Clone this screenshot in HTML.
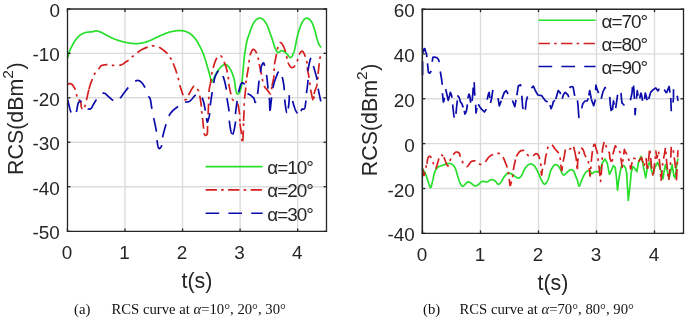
<!DOCTYPE html>
<html><head><meta charset="utf-8"><style>
html,body{margin:0;padding:0;background:#fff;}
svg{display:block;font-family:"Liberation Sans",sans-serif;will-change:transform;}
</style></head><body>
<svg width="685" height="318" viewBox="0 0 685 318">
<rect width="685" height="318" fill="#fff"/>
<g id="grid"><line x1="124.97" y1="9" x2="124.97" y2="231.4" stroke="#dcdcdc" stroke-width="1.4"/>
<line x1="182.54" y1="9" x2="182.54" y2="231.4" stroke="#dcdcdc" stroke-width="1.4"/>
<line x1="240.11" y1="9" x2="240.11" y2="231.4" stroke="#dcdcdc" stroke-width="1.4"/>
<line x1="297.68" y1="9" x2="297.68" y2="231.4" stroke="#dcdcdc" stroke-width="1.4"/>
<line x1="67.5" y1="53.35" x2="326.5" y2="53.35" stroke="#dcdcdc" stroke-width="1.4"/>
<line x1="67.5" y1="97.8" x2="326.5" y2="97.8" stroke="#dcdcdc" stroke-width="1.4"/>
<line x1="67.5" y1="142.25" x2="326.5" y2="142.25" stroke="#dcdcdc" stroke-width="1.4"/>
<line x1="67.5" y1="186.7" x2="326.5" y2="186.7" stroke="#dcdcdc" stroke-width="1.4"/><line x1="480.5" y1="9.2" x2="480.5" y2="233.4" stroke="#dcdcdc" stroke-width="1.4"/>
<line x1="538.5" y1="9.2" x2="538.5" y2="233.4" stroke="#dcdcdc" stroke-width="1.4"/>
<line x1="596.5" y1="9.2" x2="596.5" y2="233.4" stroke="#dcdcdc" stroke-width="1.4"/>
<line x1="654.5" y1="9.2" x2="654.5" y2="233.4" stroke="#dcdcdc" stroke-width="1.4"/>
<line x1="422.3" y1="53.9" x2="683.5" y2="53.9" stroke="#dcdcdc" stroke-width="1.4"/>
<line x1="422.3" y1="98.75" x2="683.5" y2="98.75" stroke="#dcdcdc" stroke-width="1.4"/>
<line x1="422.3" y1="143.6" x2="683.5" y2="143.6" stroke="#dcdcdc" stroke-width="1.4"/>
<line x1="422.3" y1="188.5" x2="683.5" y2="188.5" stroke="#dcdcdc" stroke-width="1.4"/></g>
<polyline points="67.7,58.2 67.83,57.59 67.95,56.98 68.07,56.37 68.19,55.75 68.34,55.13 68.5,54.5 68.68,53.89 68.87,53.26 69.07,52.62 69.29,51.98 69.51,51.35 69.75,50.72 70,50.1 70.26,49.5 70.53,48.91 70.81,48.32 71.11,47.73 71.4,47.15 71.7,46.58 72,46 72.29,45.43 72.58,44.86 72.87,44.29 73.16,43.73 73.47,43.18 73.78,42.63 74.1,42.1 74.47,41.52 74.86,40.95 75.26,40.4 75.66,39.85 76.08,39.32 76.5,38.8 76.92,38.3 77.34,37.8 77.77,37.32 78.21,36.85 78.66,36.41 79.1,36 79.57,35.61 80.04,35.25 80.52,34.92 81,34.6 81.5,34.3 82.01,34 82.52,33.72 83.05,33.45 83.58,33.21 84.1,33 84.7,32.8 85.29,32.65 85.89,32.52 86.5,32.4 87.16,32.28 87.82,32.17 88.5,32.08 89.2,32 89.82,31.96 90.46,31.94 91.11,31.92 91.76,31.88 92.4,31.8 93.04,31.64 93.66,31.41 94.28,31.18 94.93,30.99 95.6,30.9 96.19,30.92 96.79,30.99 97.4,31.1 98.04,31.26 98.68,31.45 99.33,31.67 100,31.9 100.54,32.1 101.08,32.33 101.64,32.59 102.2,32.86 102.77,33.15 103.35,33.45 103.93,33.76 104.52,34.07 105.11,34.39 105.7,34.7 106.3,35 106.86,35.28 107.42,35.57 107.98,35.87 108.55,36.18 109.13,36.49 109.71,36.8 110.29,37.1 110.87,37.41 111.45,37.71 112.04,38 112.63,38.28 113.21,38.55 113.8,38.8 114.42,39.05 115.04,39.29 115.66,39.53 116.28,39.75 116.9,39.96 117.53,40.17 118.15,40.37 118.78,40.57 119.41,40.76 120.04,40.94 120.67,41.12 121.3,41.3 121.93,41.47 122.56,41.64 123.19,41.81 123.82,41.97 124.45,42.12 125.09,42.27 125.72,42.41 126.36,42.54 126.99,42.67 127.63,42.79 128.27,42.9 128.9,43 129.58,43.1 130.26,43.2 130.94,43.28 131.62,43.36 132.31,43.43 132.99,43.49 133.67,43.54 134.35,43.58 135.03,43.6 135.72,43.61 136.4,43.6 137.09,43.57 137.79,43.53 138.5,43.48 139.21,43.41 139.91,43.33 140.62,43.24 141.31,43.13 142,43.01 142.68,42.89 143.35,42.75 144,42.6 144.64,42.44 145.26,42.26 145.86,42.07 146.46,41.87 147.05,41.66 147.64,41.44 148.23,41.21 148.81,40.98 149.4,40.74 150,40.5 150.63,40.24 151.26,39.97 151.89,39.68 152.52,39.39 153.15,39.1 153.78,38.79 154.41,38.49 155.04,38.19 155.67,37.89 156.3,37.6 156.93,37.31 157.56,37.01 158.19,36.72 158.82,36.42 159.44,36.12 160.07,35.83 160.7,35.54 161.33,35.25 161.97,34.97 162.6,34.7 163.23,34.44 163.85,34.18 164.48,33.92 165.11,33.66 165.74,33.41 166.37,33.17 167,32.93 167.63,32.71 168.26,32.5 168.9,32.3 169.53,32.12 170.16,31.94 170.8,31.78 171.44,31.62 172.08,31.47 172.72,31.33 173.35,31.21 173.98,31.09 174.6,30.99 175.2,30.9 175.85,30.81 176.49,30.74 177.11,30.68 177.73,30.63 178.35,30.6 178.96,30.58 179.58,30.58 180.2,30.6 180.83,30.63 181.46,30.67 182.08,30.72 182.71,30.79 183.34,30.88 183.96,30.99 184.58,31.13 185.2,31.3 185.78,31.49 186.36,31.7 186.94,31.93 187.51,32.18 188.08,32.46 188.65,32.76 189.21,33.08 189.76,33.43 190.3,33.8 190.79,34.16 191.27,34.55 191.75,34.97 192.22,35.4 192.69,35.85 193.15,36.32 193.6,36.8 194.05,37.29 194.48,37.79 194.89,38.3 195.3,38.8 195.69,39.32 196.07,39.85 196.44,40.39 196.79,40.94 197.13,41.5 197.47,42.06 197.8,42.64 198.12,43.22 198.45,43.81 198.77,44.4 199.1,45 199.4,45.55 199.7,46.1 199.99,46.65 200.28,47.21 200.57,47.77 200.86,48.34 201.15,48.92 201.43,49.51 201.71,50.1 201.99,50.71 202.26,51.32 202.53,51.96 202.8,52.6 203.03,53.16 203.25,53.74 203.47,54.33 203.69,54.92 203.91,55.53 204.13,56.14 204.34,56.76 204.55,57.39 204.76,58.02 204.97,58.66 205.18,59.3 205.38,59.95 205.59,60.6 205.79,61.26 205.99,61.92 206.2,62.58 206.4,63.24 206.6,63.9 206.79,64.53 206.99,65.19 207.18,65.86 207.38,66.55 207.58,67.25 207.78,67.96 207.97,68.68 208.17,69.4 208.37,70.12 208.56,70.84 208.75,71.55 208.94,72.26 209.12,72.95 209.3,73.62 209.48,74.28 209.65,74.92 209.81,75.54 209.97,76.13 210.12,76.68 210.27,77.21 210.4,77.7 210.6,78.51 210.76,79.34 210.91,80.14 211.05,80.85 211.2,81.43 211.38,81.83 211.6,82 211.87,81.88 212.18,81.5 212.51,80.94 212.85,80.28 213.19,79.61 213.5,79 213.78,78.47 214.05,77.91 214.31,77.34 214.56,76.76 214.83,76.17 215.11,75.59 215.4,75 215.7,74.44 216.01,73.86 216.32,73.28 216.65,72.69 216.99,72.12 217.32,71.55 217.66,71.01 218,70.5 218.39,69.95 218.78,69.42 219.17,68.91 219.57,68.43 219.98,67.96 220.4,67.5 220.9,66.98 221.4,66.46 221.92,65.98 222.46,65.55 223,65.2 223.61,64.89 224.24,64.65 224.88,64.5 225.5,64.5 226.02,64.63 226.53,64.87 227.04,65.2 227.53,65.58 228,66 228.39,66.4 228.77,66.85 229.14,67.34 229.5,67.86 229.85,68.4 230.18,68.95 230.5,69.5 230.79,70.02 231.06,70.55 231.32,71.1 231.57,71.65 231.81,72.22 232.04,72.8 232.27,73.4 232.5,74 232.72,74.61 232.94,75.23 233.15,75.85 233.35,76.49 233.55,77.14 233.74,77.81 233.93,78.51 234.12,79.24 234.3,80 234.43,80.6 234.55,81.24 234.66,81.93 234.76,82.65 234.87,83.4 234.97,84.17 235.06,84.95 235.16,85.73 235.26,86.5 235.36,87.27 235.46,88.01 235.56,88.73 235.68,89.4 235.79,90.04 235.92,90.62 236.05,91.14 236.2,91.6 236.51,92.45 236.84,93.19 237.2,93.74 237.6,94 238.05,93.92 238.55,93.58 239.05,93.07 239.5,92.5 239.77,92.06 240.01,91.54 240.24,90.95 240.45,90.32 240.64,89.66 240.82,88.97 240.99,88.27 241.15,87.58 241.3,86.9 241.43,86.26 241.55,85.63 241.65,85.01 241.73,84.38 241.81,83.74 241.88,83.07 241.95,82.37 242.03,81.64 242.11,80.85 242.2,80 242.25,79.49 242.31,78.95 242.37,78.37 242.43,77.78 242.48,77.15 242.54,76.51 242.6,75.84 242.66,75.15 242.72,74.45 242.78,73.73 242.85,73 242.91,72.26 242.97,71.51 243.03,70.75 243.1,69.99 243.16,69.23 243.22,68.46 243.29,67.7 243.35,66.94 243.41,66.19 243.48,65.45 243.54,64.71 243.6,63.99 243.67,63.28 243.73,62.59 243.79,61.92 243.86,61.27 243.92,60.64 243.98,60.03 244.04,59.45 244.1,58.9 244.19,58.09 244.28,57.33 244.37,56.6 244.45,55.9 244.54,55.22 244.62,54.56 244.71,53.92 244.8,53.28 244.89,52.65 244.99,52.01 245.08,51.36 245.19,50.69 245.3,50 245.41,49.34 245.52,48.67 245.63,47.99 245.74,47.29 245.86,46.6 245.98,45.89 246.1,45.19 246.23,44.5 246.36,43.81 246.49,43.13 246.63,42.46 246.77,41.82 246.91,41.19 247.05,40.58 247.2,40 247.39,39.31 247.58,38.67 247.78,38.06 247.97,37.48 248.18,36.9 248.39,36.32 248.62,35.72 248.85,35.08 249.1,34.4 249.3,33.85 249.5,33.26 249.71,32.65 249.92,32.01 250.14,31.36 250.37,30.69 250.6,30.02 250.84,29.34 251.08,28.66 251.33,28 251.58,27.34 251.84,26.7 252.1,26.08 252.36,25.49 252.63,24.93 252.9,24.4 253.24,23.78 253.58,23.17 253.94,22.58 254.3,22.01 254.66,21.46 255.03,20.94 255.41,20.47 255.8,20.03 256.2,19.64 256.6,19.3 257.22,18.88 257.85,18.55 258.5,18.3 259.16,18.15 259.8,18.1 260.43,18.16 261.06,18.31 261.68,18.56 262.3,18.89 262.9,19.3 263.31,19.64 263.71,20.03 264.11,20.46 264.5,20.94 264.88,21.46 265.26,22 265.63,22.58 266,23.17 266.35,23.78 266.7,24.4 266.97,24.93 267.24,25.49 267.51,26.08 267.77,26.7 268.02,27.34 268.27,28 268.52,28.66 268.76,29.34 268.99,30.02 269.22,30.69 269.45,31.36 269.67,32.01 269.88,32.65 270.09,33.26 270.3,33.85 270.5,34.4 270.75,35.09 271,35.75 271.23,36.38 271.45,36.98 271.67,37.58 271.88,38.17 272.09,38.77 272.29,39.38 272.5,40 272.71,40.66 272.91,41.34 273.11,42.03 273.3,42.72 273.5,43.41 273.69,44.09 273.89,44.75 274.09,45.39 274.3,46 274.53,46.63 274.75,47.24 274.98,47.83 275.22,48.41 275.46,48.96 275.72,49.49 276,50 276.36,50.64 276.74,51.3 277.15,51.91 277.56,52.37 278,52.6 278.48,52.53 278.99,52.22 279.5,51.83 280,51.5 280.6,51.16 281.19,50.85 281.8,50.7 282.33,50.76 282.88,50.93 283.44,51.19 284,51.5 284.46,51.79 284.92,52.13 285.38,52.51 285.84,52.92 286.32,53.36 286.8,53.8 287.26,54.28 287.74,54.87 288.23,55.51 288.72,56.16 289.22,56.74 289.7,57.21 290.16,57.52 290.6,57.6 290.99,57.46 291.38,57.13 291.75,56.67 292.11,56.09 292.46,55.43 292.8,54.72 293.12,53.99 293.42,53.27 293.7,52.6 293.92,52.03 294.13,51.44 294.31,50.83 294.49,50.2 294.65,49.55 294.8,48.9 294.94,48.24 295.07,47.58 295.2,46.92 295.33,46.27 295.47,45.63 295.6,45 295.74,44.32 295.87,43.65 295.99,43 296.1,42.35 296.2,41.7 296.31,41.05 296.43,40.37 296.57,39.68 296.72,38.96 296.9,38.2 297.04,37.62 297.2,37 297.36,36.36 297.53,35.7 297.71,35.01 297.9,34.31 298.1,33.6 298.3,32.88 298.5,32.16 298.71,31.44 298.93,30.72 299.14,30.01 299.36,29.31 299.59,28.63 299.81,27.96 300.03,27.33 300.26,26.72 300.48,26.14 300.7,25.6 300.99,24.92 301.28,24.26 301.57,23.62 301.87,23 302.17,22.42 302.47,21.86 302.79,21.34 303.11,20.86 303.45,20.41 303.8,20 304.34,19.44 304.9,18.93 305.48,18.5 306.08,18.21 306.7,18.1 307.25,18.16 307.83,18.36 308.43,18.66 309.03,19.05 309.62,19.52 310.18,20.04 310.7,20.6 311.04,21.04 311.37,21.52 311.68,22.06 311.98,22.63 312.27,23.25 312.54,23.89 312.81,24.55 313.06,25.23 313.31,25.93 313.56,26.63 313.8,27.33 314.03,28.03 314.27,28.72 314.5,29.4 314.71,30.04 314.92,30.69 315.12,31.37 315.31,32.06 315.5,32.76 315.69,33.46 315.86,34.17 316.04,34.88 316.21,35.58 316.38,36.27 316.55,36.95 316.72,37.61 316.89,38.25 317.06,38.86 317.23,39.45 317.4,40 317.64,40.73 317.87,41.43 318.09,42.11 318.32,42.75 318.54,43.36 318.78,43.93 319.03,44.48 319.3,45 319.66,45.57 320.03,46.08 320.42,46.56 320.81,47.02 321.2,47.5" fill="none" stroke="#27df2b" stroke-width="1.7" stroke-linejoin="round"/>
<path d="M67.8,84.2 L68.3,83.99 L68.79,83.75 L69.29,83.56 L69.8,83.5 L70.43,83.62 L71.08,83.89 L71.72,84.26 L72.3,84.7 L72.75,85.16 L73.15,85.71 L73.53,86.31 L73.87,86.92 L74.2,87.5 L74.54,88.1 L74.85,88.69 L75.13,89.3 L75.28,89.7 M76.36,93.96 L76.37,94 L76.53,94.67 L76.7,95.3 L76.89,95.98 L77.03,96.47 M78.51,99.49 L78.51,99.49 L79.08,99.86 L79.6,100.3 L79.96,100.77 L80.27,101.28 L80.55,101.85 L80.8,102.5 L80.93,103.03 L81.02,103.64 L81.07,104.3 L81.12,104.99 L81.17,105.67 L81.23,106.34 L81.34,106.96 L81.5,107.5 L81.78,108.16 L82.12,108.84 L82.32,109.16 M84.52,107.22 L84.68,106.68 L84.9,106 L85.09,105.41 L85.27,104.81 L85.29,104.74 M86.41,100.27 L86.56,99.63 L86.71,98.97 L86.86,98.31 L87.01,97.65 L87.15,97 L87.3,96.34 L87.45,95.67 L87.6,95 L87.75,94.36 L87.9,93.72 L88.05,93.07 L88.2,92.42 L88.36,91.77 L88.51,91.12 L88.67,90.47 L88.84,89.83 L88.86,89.76 M89,89.2 L89,89.2 L89.18,88.53 L89.35,87.87 L89.53,87.22 L89.71,86.57 L89.9,85.92 L90.09,85.28 L90.29,84.64 L90.5,84 L90.72,83.36 L90.94,82.73 L91.18,82.1 L91.42,81.47 L91.66,80.85 L91.91,80.23 L92.16,79.61 L92.4,79 L92.41,78.97 M94.11,74.91 L94.3,74.5 L94.62,73.84 L94.93,73.22 L95.26,72.62 L95.28,72.58 M98.5,69.2 L98.87,68.74 L99.23,68.21 L99.58,67.66 L99.93,67.12 L100.3,66.6 L100.68,66.15 L101.1,65.8 L101.63,65.51 L102.2,65.32 L102.79,65.19 L103.39,65.1 L104,65 L104.55,64.91 L105.11,64.83 L105.68,64.77 L106.26,64.72 L106.87,64.7 L107.45,64.7 M111.81,65.26 L112.37,65.34 L113,65.4 L113.72,65.45 L114.39,65.48 L114.4,65.48 M119.2,65.4 L119.2,65.4 L119.76,65.28 L120.33,65.12 L120.9,64.93 L121.48,64.72 L122.04,64.47 L122.6,64.2 L123.18,63.86 L123.76,63.47 L124.32,63.05 L124.88,62.61 L125.44,62.19 L126,61.8 L126.52,61.48 L127.04,61.18 L127.56,60.89 L128.08,60.59 L128.59,60.27 L128.6,60.27 M131.74,57.2 L132.03,56.91 L132.5,56.5 L133.01,56.15 L133.51,55.87 L133.84,55.7 M137.3,52.72 L137.62,52.41 L138.1,52 M138.1,52 L138.62,51.61 L139.15,51.23 L139.69,50.86 L140.25,50.5 L140.82,50.16 L141.41,49.83 L142,49.5 L142.57,49.2 L143.17,48.92 L143.79,48.63 L144.41,48.36 L145.04,48.1 L145.65,47.85 L146.24,47.62 L146.8,47.4 L147.47,47.14 L147.66,47.07 M151.9,45.94 L151.92,45.93 L152.57,45.85 L153.2,45.81 L153.8,45.8 L154.49,45.85 M159,47.2 L159.53,47.48 L160.09,47.8 L160.67,48.16 L161.25,48.54 L161.84,48.95 L162.43,49.37 L163,49.8 L163.49,50.18 L163.99,50.57 L164.49,50.98 L164.99,51.4 L165.49,51.83 L165.97,52.26 L166.44,52.71 L166.88,53.15 L167.3,53.6 L167.48,53.81 M170.01,57.41 L170.41,57.97 L170.79,58.49 L171.14,59.01 L171.47,59.55 M173.2,63.4 L173.4,63.9 L173.62,64.45 L173.84,65.03 L174.08,65.64 L174.32,66.28 L174.57,66.94 L174.82,67.62 L175.07,68.31 L175.32,69 L175.57,69.7 L175.81,70.39 L176.05,71.07 L176.28,71.74 L176.5,72.38 L176.71,73.01 L176.88,73.55 M178.12,77.77 L178.2,78.08 L178.36,78.67 L178.51,79.26 L178.66,79.83 L178.77,80.29 M179.8,85 L179.95,85.55 L180.13,86.15 L180.32,86.79 L180.52,87.47 L180.74,88.16 L180.96,88.88 L181.2,89.61 L181.44,90.34 L181.68,91.08 L181.92,91.8 L182.15,92.51 L182.38,93.2 L182.61,93.86 L182.82,94.48 L183.02,95.07 L183.09,95.28 M184.44,99.46 L184.7,99.7 L185.17,99.81 L185.69,99.69 L186.2,99.4 L186.55,99.05 L186.64,98.93 M188.5,95.2 L188.78,94.66 L189.07,94.09 L189.37,93.5 L189.66,92.9 L189.96,92.29 L190.27,91.69 L190.57,91.11 L190.88,90.54 L191.19,90 L191.5,89.5 L191.86,88.92 L192.23,88.32 L192.6,87.73 L192.97,87.19 L193.34,86.73 L193.72,86.39 L194.1,86.2 L194.19,86.21 M197.34,88.94 L197.5,89.2 L197.8,89.63 L198.08,90.04 L198.35,90.48 L198.6,91 L198.66,91.17 M199.73,95.64 L199.8,96 M199.8,96 L199.91,96.57 L200.02,97.18 L200.13,97.83 L200.24,98.5 L200.36,99.19 L200.47,99.9 L200.58,100.62 L200.69,101.34 L200.79,102.06 L200.89,102.78 L200.98,103.47 L201.07,104.15 L201.16,104.8 L201.23,105.42 L201.3,106 L201.37,106.68 M201.69,111.07 L201.7,111.2 L201.76,111.84 L201.84,112.48 L201.91,113.13 L201.97,113.65 M202.5,118 L202.57,118.64 L202.64,119.3 L202.72,120 L202.79,120.71 L202.87,121.44 L202.94,122.18 L203.02,122.92 L203.1,123.66 L203.17,124.4 L203.25,125.12 L203.32,125.83 L203.4,126.52 L203.47,127.18 L203.53,127.81 L203.6,128.4 L203.63,128.74 M204.1,133.11 L204.2,133.5 L204.43,134.27 L204.71,134.93 L205.05,135.25 M205.05,135.25 L205.1,135.3 L205.7,135.3 L206.42,135.02 L207,134.5 L207.2,134.11 L207.34,133.61 L207.43,133.02 L207.48,132.36 L207.5,131.64 L207.5,130.89 L207.49,130.14 L207.48,129.39 L207.48,128.67 L207.5,128 L207.53,127.33 L207.56,126.69 L207.58,126.06 L207.58,126 M207.72,121.6 L207.72,121.43 L207.75,120.84 L207.78,120.23 L207.81,119.59 L207.84,119 M208.07,114.41 L208.09,114.07 L208.13,113.37 L208.16,112.67 L208.2,111.98 L208.23,111.31 L208.27,110.65 L208.3,110 L208.33,109.31 L208.37,108.62 L208.4,107.95 L208.44,107.27 L208.47,106.61 L208.51,105.95 L208.54,105.29 L208.58,104.63 L208.61,103.97 L208.63,103.63 M208.83,99.23 L208.85,98.69 L208.86,98.02 L208.87,97.35 L208.88,96.68 L208.88,96.63 M209,92.03 L209,92 L209.04,91.36 L209.08,90.73 L209.13,90.11 L209.2,89.5 M209.2,89.5 L209.3,88.77 L209.41,88.06 L209.54,87.37 L209.69,86.7 L209.83,86.03 L209.99,85.37 L210.14,84.71 L210.29,84.05 L210.44,83.38 L210.58,82.7 L210.7,82 L210.8,81.36 L210.89,80.71 L210.97,80.04 L211.05,79.37 L211.11,78.88 M211.63,74.51 L211.69,74.1 L211.8,73.5 L211.93,72.82 L212.07,72.17 L212.12,71.96 M213.2,67.9 L213.38,67.24 L213.57,66.58 L213.75,65.9 L213.95,65.23 L214.15,64.56 L214.35,63.89 L214.56,63.24 L214.78,62.61 L215,62 L215.26,61.33 L215.52,60.66 L215.79,60 L216.08,59.36 L216.37,58.76 L216.68,58.21 L216.93,57.8 M220.39,55.71 L220.63,55.77 L221.1,56 L221.47,56.38 L221.76,56.89 L222.01,57.48 L222.04,57.54 M223.99,61.71 L224.2,62.2 M224.2,62.2 L224.44,62.78 L224.68,63.36 L224.91,63.95 L225.15,64.55 L225.37,65.16 L225.59,65.77 L225.8,66.38 L226,67 L226.19,67.63 L226.37,68.26 L226.54,68.89 L226.7,69.53 L226.85,70.17 L227.01,70.83 L227.15,71.51 L227.3,72.2 L227.36,72.5 M228.15,76.83 L228.25,77.45 L228.34,78.09 L228.43,78.71 L228.5,79.3 L228.51,79.41 M228.8,83.8 L228.8,83.8 L228.88,84.35 L228.98,84.94 L229.08,85.57 L229.21,86.24 L229.34,86.93 L229.48,87.64 L229.63,88.36 L229.78,89.09 L229.94,89.82 L230.09,90.54 L230.25,91.25 L230.41,91.94 L230.57,92.61 L230.72,93.25 L230.86,93.85 L230.99,94.37 M232.12,98.62 L232.18,98.76 L232.4,99.2 L232.82,99.78 L233.29,100.22 L233.77,100.58 M237.31,103.4 L237.6,103.9 M237.6,103.9 L237.6,103.9 L237.82,104.39 L238.02,104.95 L238.2,105.57 L238.37,106.24 L238.52,106.94 L238.66,107.66 L238.79,108.4 L238.91,109.13 L239.02,109.85 L239.12,110.54 L239.21,111.2 L239.3,111.8 L239.4,112.52 L239.48,113.2 L239.53,113.85 L239.58,114.48 M239.79,118.87 L239.79,118.9 L239.8,119.53 L239.82,120.17 L239.84,120.82 L239.86,121.47 M240,123.5 L240.07,124.13 L240.14,124.78 L240.23,125.43 L240.33,126.1 L240.43,126.77 L240.54,127.45 L240.66,128.13 L240.77,128.82 L240.89,129.52 L241,130.21 L241.11,130.91 L241.21,131.61 L241.31,132.3 L241.4,133 L241.48,133.72 L241.53,134.19 M241.87,138.58 L241.91,139.03 L241.97,139.9 L242.03,140.71 L242.07,141.17 M242.75,141.11 L242.78,140.77 L242.84,139.97 L242.89,139.12 L242.95,138.24 L243.01,137.35 L243.06,136.45 L243.11,135.59 L243.16,134.76 L243.2,134 L243.23,133.36 L243.27,132.71 L243.29,132.04 L243.32,131.36 L243.34,130.67 L243.36,130.33 M243.47,125.93 L243.47,125.71 L243.49,125 L243.5,124.3 L243.52,123.62 L243.53,123.33 M243.6,121 L243.63,120.25 L243.66,119.52 L243.69,118.8 L243.72,118.09 L243.76,117.39 L243.79,116.71 L243.82,116.02 L243.86,115.35 L243.89,114.68 L243.92,114.01 L243.95,113.34 L243.98,112.67 L244,112 L244.02,111.31 L244.04,110.62 L244.05,110.21 M244.14,105.81 L244.15,105.25 L244.17,104.62 L244.2,104 L244.23,103.33 L244.24,103.21 M244.57,98.62 L244.6,98.3 M244.6,98.3 L244.66,97.72 L244.72,97.11 L244.79,96.48 L244.87,95.82 L244.95,95.15 L245.03,94.47 L245.12,93.79 L245.2,93.09 L245.29,92.4 L245.37,91.72 L245.45,91.04 L245.52,90.38 L245.59,89.73 L245.65,89.1 L245.7,88.5 L245.75,87.79 L245.76,87.56 M245.91,83.17 L245.95,82.59 L246,82 L246.08,81.33 L246.16,80.7 L246.18,80.58 M246.7,77.5 L246.79,76.93 L246.9,76.32 L247.01,75.69 L247.12,75.03 L247.24,74.35 L247.36,73.66 L247.49,72.95 L247.61,72.24 L247.73,71.52 L247.86,70.8 L247.98,70.08 L248.09,69.37 L248.2,68.68 L248.3,68 L248.4,67.3 L248.46,66.84 M248.95,62.47 L248.96,62.34 L249.04,61.66 L249.12,60.99 L249.21,60.34 L249.27,59.89 M250.11,55.37 L250.19,55.04 L250.38,54.42 L250.6,53.8 M250.6,53.8 L250.85,53.15 L251.13,52.43 L251.44,51.7 L251.76,50.99 L252.11,50.36 L252.46,49.83 L252.83,49.46 L253.2,49.3 L253.61,49.36 L254.04,49.61 L254.5,50.01 L254.96,50.52 L255.4,51.1 L255.82,51.71 L256.2,52.3 L256.49,52.82 L256.7,53.28 M258.02,57.47 L258.04,57.55 L258.2,58.24 L258.36,58.89 L258.5,59.5 L258.61,60 M259.2,64 L259.3,64.53 L259.41,65.1 L259.53,65.7 L259.66,66.32 L259.8,66.97 L259.94,67.64 L260.09,68.32 L260.24,69 L260.39,69.7 L260.55,70.39 L260.7,71.08 L260.85,71.76 L261,72.42 L261.14,73.07 L261.27,73.7 L261.4,74.3 L261.45,74.56 M262.33,78.87 L262.37,79.06 L262.5,79.7 L262.63,80.31 L262.76,80.91 L262.88,81.41 M264.1,86 L264.42,86.57 L264.8,87.13 L265.23,87.7 L265.7,88.26 L266.18,88.82 L266.66,89.36 L267.14,89.89 L267.59,90.41 L268,90.9 L268.47,91.54 L268.94,92.24 L269.39,92.93 L269.81,93.5 L270.19,93.89 L270.5,94 L270.75,93.76 L270.79,93.63 M271.56,89.31 L271.56,89.29 L271.64,88.68 L271.71,88.04 L271.79,87.39 L271.89,86.73 M272,86 L272.11,85.41 L272.23,84.79 L272.37,84.14 L272.52,83.46 L272.67,82.76 L272.84,82.05 L273,81.33 L273.16,80.62 L273.31,79.9 L273.46,79.2 L273.6,78.51 L273.72,77.84 L273.82,77.21 L273.9,76.6 L273.97,75.92 L274.01,75.4 M274.1,71 L274.13,70.37 L274.15,69.74 L274.17,69.11 L274.19,68.47 L274.2,68.4 M274.5,64.4 L274.58,63.8 L274.68,63.16 L274.8,62.51 L274.92,61.83 L275.06,61.13 L275.2,60.43 L275.35,59.72 L275.5,59.01 L275.65,58.3 L275.8,57.59 L275.95,56.9 L276.1,56.23 L276.24,55.58 L276.37,54.95 L276.49,54.36 L276.6,53.81 M277.33,49.47 L277.34,49.43 L277.5,48.8 L277.68,48.15 L277.88,47.42 L278.01,46.96 M279.67,42.7 L279.9,42.5 L280.44,42.48 L280.54,42.54 M280.54,42.54 L281,42.8 L281.36,43.1 L281.73,43.52 L282.11,44.02 L282.49,44.58 L282.85,45.19 L283.2,45.8 L283.46,46.3 L283.72,46.84 L283.97,47.42 L284.21,48.01 L284.44,48.63 L284.67,49.26 L284.89,49.9 L285.1,50.54 L285.31,51.17 L285.5,51.8 L285.52,51.88 M286.54,56.16 L286.6,56.44 L286.73,57.08 L286.87,57.71 L287,58.3 L287.09,58.7 M288,62.5 L288.24,63.06 L288.52,63.67 L288.84,64.31 L289.17,64.94 L289.53,65.55 L289.89,66.11 L290.27,66.61 L290.64,67.01 L291,67.3 L291.67,67.57 L292.35,67.63 L293,67.5 L293.49,67.25 L293.94,66.85 L294.38,66.36 L294.8,65.8 L295.08,65.38 M296.95,61.4 L297,61.3 L297.3,60.65 L297.54,60.08 L297.8,59.4 L297.93,58.99 M299.17,54.57 L299.4,54.1 M299.4,54.1 L299.78,53.44 L300.22,52.76 L300.68,52.11 L301.17,51.57 L301.65,51.21 L302.1,51.1 L302.45,51.23 L302.81,51.55 L303.17,52.01 L303.52,52.59 L303.87,53.25 L304.2,53.95 L304.52,54.67 L304.82,55.36 L305.1,56 L305.35,56.6 L305.39,56.71 M306.62,60.93 L306.66,61.15 L306.79,61.79 L306.9,62.4 L306.99,63.03 L307.03,63.49 M307.2,67.3 L307.27,67.87 L307.36,68.48 L307.46,69.11 L307.58,69.77 L307.7,70.45 L307.83,71.14 L307.96,71.85 L308.1,72.56 L308.24,73.28 L308.37,73.99 L308.51,74.7 L308.64,75.4 L308.77,76.09 L308.89,76.75 L309,77.4 L309.09,77.93 M309.77,82.28 L309.86,82.86 L309.95,83.5 L310.04,84.12 L310.12,84.72 L310.14,84.85 M310.64,89.42 L310.7,89.8 M310.7,89.8 L310.8,90.36 L310.92,91.01 L311.06,91.74 L311.22,92.53 L311.39,93.37 L311.57,94.24 L311.76,95.13 L311.95,96.03 L312.15,96.91 L312.34,97.76 L312.54,98.56 L312.72,99.31 L312.91,99.98 L313.01,100.35 M313.82,98.84 L313.82,98.75 L313.83,97.91 L313.84,97.04 L313.87,96.24 M314.07,94 L314.1,93.8 L314.24,93.17 L314.4,92.53 L314.59,91.9 L314.8,91.26 L315.03,90.62 L315.27,89.98 L315.51,89.34 L315.75,88.69 L316,88.04 L316.23,87.38 L316.45,86.72 L316.66,86.05 L316.84,85.38 L317,84.7 L317.12,84.06 L317.19,83.68 M317.68,79.31 L317.72,78.76 L317.77,78.08 L317.82,77.4 L317.87,76.72 L317.87,76.71 M318.1,74 L318.17,73.34 L318.24,72.67 L318.31,71.99 L318.38,71.29 L318.45,70.6 L318.52,69.9 L318.59,69.2 L318.66,68.5 L318.73,67.81 L318.81,67.13 L318.88,66.46 L318.95,65.8 L319.02,65.15 L319.09,64.53 L319.16,63.93 L319.23,63.35 L319.24,63.26 M319.79,58.9 L319.84,58.62 L319.96,58.04 L320.1,57.5 L320.34,56.82 L320.54,56.42" fill="none" stroke="#d41f1f" stroke-width="1.7" stroke-linejoin="round"/>
<path d="M67.7,99.6 L67.85,100.28 L68,100.95 L68.14,101.62 L68.29,102.29 L68.44,102.96 L68.59,103.64 L68.75,104.32 L68.92,105 L69.1,105.7 L69.27,106.34 L69.44,107 L69.62,107.69 L69.8,108.38 L69.98,109.07 L70.18,109.76 L70.38,110.43 L70.59,111.08 L70.82,111.69 L71.05,112.27 L71.17,112.52 M76.2,112 L76.2,112 L76.41,111.44 L76.59,110.8 L76.77,110.1 L76.92,109.36 L77.07,108.58 L77.21,107.79 L77.35,106.99 L77.49,106.21 L77.63,105.45 L77.78,104.74 L77.94,104.08 L78.11,103.49 L78.29,103 L78.5,102.6 L78.97,102 L79.46,101.61 L80,101.4 L80.57,101.37 L81.18,101.5 L81.66,101.73 M87.76,108.7 L87.81,108.75 L88.3,109 M88.3,109 L88.95,109.13 L89.63,109.1 L90.29,108.92 L90.9,108.6 L91.28,108.27 L91.63,107.83 L91.96,107.31 L92.27,106.72 L92.57,106.11 L92.87,105.48 L93.18,104.87 L93.5,104.3 L93.83,103.75 L94.17,103.19 L94.5,102.64 L94.83,102.08 L95.17,101.53 L95.51,100.98 L95.85,100.43 L96.2,99.9 L96.45,99.52 M102.5,93.3 L103.13,93.17 L103.74,93.17 L104.36,93.28 L105,93.5 L105.48,93.76 L105.97,94.11 L106.46,94.54 L106.96,95.02 L107.47,95.53 L107.98,96.04 L108.49,96.54 L109,97 L109.52,97.45 L110.04,97.93 L110.56,98.41 L111.09,98.89 L111.62,99.35 L112.15,99.76 L112.67,100.12 L113.2,100.4 L113.28,100.43 M120.1,98.1 L120.5,97.66 L120.9,97.2 L121.29,96.71 L121.68,96.2 L122.06,95.68 L122.44,95.14 L122.83,94.6 L123.21,94.06 L123.6,93.53 L124,93 L124.38,92.5 L124.78,91.98 L125.17,91.46 L125.57,90.94 L125.97,90.41 L126.37,89.89 L126.77,89.37 L127.16,88.86 L127.55,88.36 L127.93,87.87 L128.25,87.47 M135.2,81.1 L135.86,80.85 L136.53,80.64 L137.2,80.5 L137.86,80.44 L138.5,80.5 L139.03,80.65 L139.54,80.88 L140.04,81.18 L140.53,81.54 L141.02,81.95 L141.5,82.4 L141.89,82.81 L142.28,83.28 L142.67,83.78 L143.06,84.32 L143.43,84.89 L143.8,85.49 L144.17,86.1 L144.52,86.73 L144.87,87.37 L145.05,87.71 M148.4,96.2 L148.4,96.2 L148.82,96.82 L149.23,97.27 L149.63,97.74 L150,98.4 L150.17,98.84 L150.32,99.33 L150.46,99.88 L150.59,100.48 L150.72,101.12 L150.83,101.79 L150.94,102.5 L151.05,103.22 L151.15,103.96 L151.25,104.7 L151.36,105.45 L151.46,106.2 L151.56,106.93 L151.67,107.65 L151.78,108.34 L151.88,108.88 M153.7,118 L153.8,118.5 M153.8,118.5 L153.93,119.12 L154.06,119.75 L154.19,120.4 L154.34,121.05 L154.48,121.72 L154.63,122.39 L154.77,123.06 L154.92,123.74 L155.07,124.42 L155.21,125.1 L155.36,125.78 L155.5,126.46 L155.63,127.13 L155.76,127.8 L155.89,128.46 L156,129.11 L156.11,129.76 L156.21,130.38 L156.3,131 L156.38,131.64 M157,140.1 L157,140.1 L157.1,140.84 L157.2,141.61 L157.3,142.4 L157.41,143.19 L157.53,143.97 L157.65,144.72 L157.78,145.44 L157.92,146.1 L158.07,146.69 L158.23,147.19 L158.4,147.6 L158.82,148.3 L159.3,148.6 L159.74,148.45 L160.25,148.03 L160.76,147.42 L161.2,146.7 L161.38,146.27 L161.54,145.77 L161.66,145.22 L161.67,145.17 M162.6,137.3 L162.73,136.68 L162.87,136.05 L163.02,135.4 L163.17,134.74 L163.33,134.07 L163.5,133.39 L163.68,132.7 L163.86,132.01 L164.04,131.32 L164.22,130.62 L164.41,129.93 L164.6,129.24 L164.79,128.56 L164.98,127.88 L165.18,127.22 L165.37,126.56 L165.55,125.92 L165.74,125.3 L165.92,124.69 L166.02,124.35 M168.9,116 L169.21,115.42 L169.54,114.86 L169.87,114.32 L170.21,113.81 L170.56,113.3 L170.94,112.81 L171.32,112.33 L171.73,111.85 L172.15,111.38 L172.6,110.9 L173.05,110.45 L173.54,109.99 L174.07,109.54 L174.61,109.09 L175.17,108.64 L175.74,108.21 L176.31,107.78 L176.87,107.37 L177.42,106.97 L177.94,106.59 L178.11,106.47 M185.2,102.2 L185.81,102.06 L186.46,101.99 L187.12,101.95 L187.78,101.9 L188.41,101.8 L189,101.6 L189.55,101.29 L190.07,100.91 L190.56,100.47 L191.04,99.99 L191.51,99.5 L192,99 L192.41,98.56 L192.82,98.06 L193.23,97.54 L193.63,97.01 L194.04,96.5 L194.45,96.03 L194.87,95.62 L195.3,95.3 L195.79,95.01 M202,97.8 L202.26,98.25 L202.51,98.75 L202.75,99.3 L202.97,99.9 L203.18,100.53 L203.38,101.19 L203.57,101.87 L203.75,102.58 L203.92,103.31 L204.08,104.04 L204.24,104.78 L204.39,105.53 L204.53,106.26 L204.67,106.99 L204.8,107.7 L204.93,108.4 L205.05,109.06 L205.18,109.7 L205.3,110.3 L205.38,110.71 M206.5,118 L206.63,118.83 L206.75,119.72 L206.87,120.57 L206.99,121.29 L207.13,121.8 L207.3,122 L207.51,121.81 L207.76,121.28 L208.02,120.55 L208.27,119.75 L208.5,119 L208.68,118.41 L208.86,117.81 L209.02,117.19 L209.18,116.54 L209.33,115.86 L209.47,115.15 L209.6,114.4 L209.68,113.81 L209.75,113.2 L209.76,113.13 M210.3,105.4 L210.37,104.79 L210.44,104.17 L210.52,103.53 L210.61,102.88 L210.7,102.22 L210.79,101.55 L210.88,100.87 L210.98,100.18 L211.08,99.5 L211.19,98.81 L211.29,98.12 L211.39,97.43 L211.5,96.74 L211.6,96.06 L211.71,95.39 L211.81,94.73 L211.91,94.07 L212.01,93.43 L212.11,92.81 L212.2,92.2 L212.21,92.14 M213.7,83 L213.83,82.31 L213.96,81.63 L214.08,80.97 L214.21,80.32 L214.33,79.68 L214.47,79.05 L214.62,78.43 L214.79,77.82 L214.98,77.21 L215.2,76.6 L215.45,75.98 L215.72,75.35 L216.02,74.71 L216.34,74.07 L216.66,73.45 L217,72.85 L217.34,72.28 L217.67,71.76 L217.99,71.3 L218.3,70.9 L218.49,70.66 M223.01,76.05 L223.2,76.6 M223.2,76.6 L223.4,77.18 L223.6,77.79 L223.79,78.42 L223.99,79.06 L224.18,79.72 L224.37,80.39 L224.55,81.07 L224.73,81.77 L224.91,82.46 L225.08,83.16 L225.25,83.86 L225.41,84.56 L225.56,85.26 L225.7,85.95 L225.84,86.63 L225.97,87.3 L226.09,87.96 L226.2,88.6 L226.31,89.31 L226.35,89.61 M227,98.2 L227.08,98.83 L227.17,99.48 L227.27,100.14 L227.38,100.81 L227.49,101.48 L227.61,102.17 L227.73,102.86 L227.85,103.55 L227.98,104.25 L228.1,104.94 L228.22,105.64 L228.34,106.33 L228.46,107.02 L228.57,107.71 L228.68,108.39 L228.77,109.06 L228.86,109.72 L228.94,110.36 L229,111 L229.04,111.44 M229.3,120.7 L229.37,121.37 L229.45,122.08 L229.54,122.83 L229.64,123.6 L229.75,124.39 L229.86,125.19 L229.98,126 L230.1,126.8 L230.23,127.6 L230.36,128.37 L230.5,129.12 L230.64,129.84 L230.78,130.53 L230.92,131.16 L231.07,131.74 L231.21,132.27 L231.36,132.72 L231.5,133.1 L231.82,133.81 L231.82,133.81 M232.5,134.5 L232.66,134.4 L232.83,134.16 L233.01,133.79 L233.2,133.32 L233.38,132.74 L233.58,132.09 L233.77,131.37 L233.96,130.58 L234.14,129.76 L234.33,128.91 L234.5,128.05 L234.67,127.18 L234.82,126.32 L234.96,125.49 L235.09,124.7 L235.21,123.97 L235.3,123.3 L235.38,122.62 L235.43,121.96 L235.45,121.56 M235.5,114.1 L235.55,113.47 L235.61,112.83 L235.67,112.17 L235.74,111.5 L235.81,110.82 L235.89,110.14 L235.97,109.44 L236.06,108.74 L236.15,108.04 L236.24,107.34 L236.34,106.64 L236.43,105.94 L236.53,105.25 L236.63,104.56 L236.72,103.89 L236.82,103.22 L236.92,102.56 L237.01,101.92 L237.1,101.3 L237.17,100.81 M238.6,92.2 L238.77,91.54 L238.95,90.82 L239.14,90.07 L239.34,89.28 L239.54,88.49 L239.76,87.69 L239.98,86.91 L240.21,86.15 L240.45,85.44 L240.69,84.78 L240.95,84.19 L241.2,83.68 L241.46,83.28 L241.73,82.98 L242,82.8 L242.53,82.75 L243.1,82.96 L243.67,83.37 L244.2,83.9 L244.46,84.27 L244.57,84.47 M247.6,93.4 L248.15,93.92 L248.75,94.27 L249.37,94.54 L249.99,94.82 L250.6,95.2 L251.11,95.61 L251.64,96.05 L252.18,96.52 L252.7,97.01 L253.19,97.53 L253.63,98.06 L254,98.6 L254.3,99.28 L254.52,100.1 L254.69,100.94 L254.85,101.68 L255,102.2 L255.2,102.4 L255.36,102.31 L255.53,102.05 L255.71,101.64 L255.73,101.57 M257.5,94 L257.62,93.37 L257.73,92.72 L257.83,92.05 L257.92,91.36 L258.01,90.66 L258.09,89.96 L258.17,89.24 L258.25,88.52 L258.32,87.79 L258.39,87.07 L258.46,86.34 L258.53,85.62 L258.6,84.9 L258.68,84.2 L258.75,83.5 L258.83,82.82 L258.91,82.15 L259,81.5 L259.1,80.8 L259.12,80.7 M260.5,72.3 L260.62,71.56 L260.72,70.82 L260.81,70.07 L260.9,69.34 L261,68.61 L261.1,67.92 L261.21,67.25 L261.35,66.62 L261.51,66.03 L261.7,65.5 L262.02,64.79 L262.39,64.08 L262.79,63.46 L263.17,63.04 L263.5,62.9 L263.74,63.08 L263.96,63.5 L264.15,64.09 L264.33,64.8 L264.51,65.56 L264.59,65.88 M266.53,74.97 L266.6,75.4 M266.6,75.4 L266.7,76.03 L266.79,76.67 L266.87,77.32 L266.95,77.98 L267.03,78.66 L267.1,79.34 L267.18,80.03 L267.25,80.73 L267.31,81.43 L267.38,82.13 L267.45,82.84 L267.51,83.54 L267.58,84.24 L267.64,84.93 L267.71,85.62 L267.78,86.31 L267.85,86.98 L267.92,87.65 L268,88.3 L268.05,88.72 M269.29,97.94 L269.33,98.32 L269.4,99 M269.4,99 L269.46,99.71 L269.51,100.48 L269.55,101.31 L269.59,102.18 L269.62,103.08 L269.65,103.99 L269.67,104.89 L269.7,105.78 L269.72,106.64 L269.75,107.45 L269.77,108.19 L269.8,108.87 L269.83,109.45 L269.86,109.93 L269.9,110.29 L269.95,110.52 L270,110.6 M270,110.6 L270.07,110.49 L270.15,110.16 L270.24,109.66 L270.33,109.01 L270.42,108.25 L270.52,107.4 L270.62,106.5 L270.71,105.57 L270.81,104.66 L270.91,103.79 L271,103 L271.07,102.39 L271.14,101.76 L271.21,101.12 L271.28,100.47 L271.35,99.81 L271.42,99.14 L271.49,98.46 L271.56,97.78 L271.61,97.32 M272.91,88.11 L272.97,87.78 L273.1,87.13 L273.22,86.49 L273.36,85.86 L273.5,85.23 L273.65,84.61 L273.8,84 M273.8,84 L273.99,83.31 L274.19,82.63 L274.39,81.96 L274.6,81.31 L274.82,80.66 L275.05,80.02 L275.28,79.39 L275.52,78.76 L275.76,78.13 L276,77.5 L276.24,76.87 L276.48,76.19 L276.73,75.5 L276.99,74.81 L277.25,74.13 L277.51,73.49 L277.78,72.9 L278.05,72.37 L278.32,71.93 L278.6,71.6 L278.64,71.56 M282.2,77 L282.38,77.66 L282.56,78.31 L282.72,78.97 L282.87,79.63 L283.01,80.29 L283.14,80.95 L283.26,81.62 L283.38,82.31 L283.5,83 L283.6,83.62 L283.69,84.25 L283.78,84.89 L283.86,85.53 L283.93,86.17 L284,86.82 L284.07,87.48 L284.13,88.15 L284.19,88.82 L284.25,89.51 L284.3,90.2 L284.3,90.21 M284.7,99.5 L284.77,100.17 L284.85,100.91 L284.94,101.7 L285.04,102.55 L285.14,103.43 L285.25,104.33 L285.37,105.24 L285.49,106.14 L285.61,107.04 L285.74,107.9 L285.87,108.73 L286,109.51 L286.13,110.22 L286.26,110.86 L286.4,111.41 L286.53,111.86 L286.65,112.2 L286.78,112.42 L286.9,112.5 L287.01,112.43 M288.2,108.5 L288.31,107.95 L288.42,107.35 L288.51,106.72 L288.6,106.05 L288.69,105.37 L288.77,104.67 L288.84,103.96 L288.91,103.26 L288.98,102.56 L289.04,101.88 L289.09,101.22 L289.15,100.59 L289.2,100 L289.24,99.25 L289.25,98.44 L289.25,97.63 L289.24,96.84 L289.25,96.15 L289.28,95.57 L289.36,95.18 L289.36,95.17 M292.5,101 L292.69,101.55 L292.88,102.15 L293.08,102.8 L293.29,103.48 L293.5,104.19 L293.71,104.91 L293.93,105.64 L294.16,106.37 L294.38,107.08 L294.61,107.77 L294.83,108.43 L295.06,109.04 L295.28,109.6 L295.5,110.1 L295.81,110.73 L296.12,111.32 L296.42,111.85 L296.74,112.32 L297.06,112.74 L297.4,113.1 L297.58,113.26 M300.8,111.2 L301.16,110.57 L301.51,109.93 L301.87,109.38 L302.3,109 L302.92,108.96 L303.6,109.12 L304.2,109 L304.46,108.7 L304.68,108.27 L304.87,107.73 L305.03,107.1 L305.16,106.4 L305.28,105.65 L305.39,104.88 L305.49,104.1 L305.59,103.33 L305.7,102.6 L305.79,101.99 L305.87,101.37 L305.94,100.74 L305.96,100.49 M306.5,93.2 L306.57,92.57 L306.64,91.93 L306.72,91.27 L306.8,90.6 L306.89,89.92 L306.98,89.24 L307.08,88.54 L307.17,87.85 L307.27,87.15 L307.36,86.45 L307.45,85.75 L307.54,85.06 L307.63,84.37 L307.71,83.68 L307.78,83 L307.85,82.33 L307.91,81.68 L307.96,81.03 L308,80.4 L308.02,79.89 M308,71 L308.07,70.37 L308.16,69.69 L308.26,68.99 L308.38,68.26 L308.5,67.5 L308.64,66.74 L308.78,65.97 L308.93,65.19 L309.09,64.43 L309.24,63.68 L309.41,62.94 L309.57,62.24 L309.73,61.57 L309.89,60.93 L310.05,60.35 L310.2,59.81 L310.34,59.34 L310.47,58.93 L310.6,58.6 L310.89,57.95 M313.44,65.84 L313.51,66.14 L313.7,66.9 M313.7,66.9 L313.87,67.53 L314.04,68.18 L314.22,68.83 L314.41,69.5 L314.61,70.18 L314.8,70.87 L315,71.56 L315.2,72.26 L315.4,72.96 L315.6,73.66 L315.8,74.36 L315.99,75.05 L316.17,75.75 L316.35,76.43 L316.52,77.11 L316.68,77.78 L316.83,78.43 L316.97,79.07 L317.1,79.7 L317.13,79.85 M318.2,88.7 L318.3,89.32 L318.41,89.95 L318.53,90.59 L318.66,91.24 L318.78,91.89 L318.92,92.55 L319.06,93.22 L319.2,93.9 L319.34,94.58 L319.49,95.26 L319.63,95.94 L319.78,96.63 L319.93,97.32 L320.08,98 L320.23,98.69 L320.37,99.37 L320.52,100.05 L320.66,100.73 L320.8,101.4" fill="none" stroke="#0b0bab" stroke-width="1.7" stroke-linejoin="round"/>
<polyline points="422.6,168.5 422.77,168.96 423,169.5 423.21,169.89 423.48,170.35 423.79,170.86 424.13,171.42 424.49,172.01 424.85,172.63 425.19,173.26 425.5,173.9 425.74,174.45 425.97,175.03 426.19,175.64 426.41,176.26 426.62,176.9 426.83,177.56 427.04,178.21 427.25,178.87 427.46,179.52 427.67,180.17 427.88,180.79 428.1,181.4 428.35,182.11 428.6,182.9 428.86,183.74 429.12,184.58 429.38,185.39 429.64,186.13 429.89,186.77 430.14,187.27 430.37,187.59 430.6,187.7 430.81,187.58 431.01,187.26 431.21,186.77 431.4,186.15 431.58,185.42 431.76,184.62 431.94,183.79 432.12,182.95 432.31,182.15 432.5,181.4 432.66,180.79 432.81,180.15 432.96,179.48 433.1,178.78 433.25,178.07 433.39,177.35 433.54,176.63 433.69,175.9 433.84,175.19 434.01,174.48 434.18,173.8 434.36,173.15 434.56,172.52 434.77,171.94 435,171.4 435.33,170.71 435.69,170.05 436.07,169.42 436.47,168.83 436.87,168.29 437.28,167.8 437.69,167.37 438.1,167 438.63,166.64 439.17,166.39 439.72,166.2 440.3,166 440.85,165.81 441.41,165.63 441.99,165.47 442.59,165.29 443.2,165.1 443.8,164.89 444.43,164.66 445.08,164.41 445.72,164.18 446.33,163.97 446.9,163.8 447.48,163.64 448,163.49 448.53,163.4 449.1,163.4 449.65,163.48 450.25,163.61 450.87,163.81 451.48,164.05 452.07,164.35 452.6,164.7 453.04,165.07 453.45,165.49 453.84,165.96 454.2,166.46 454.55,167.01 454.88,167.59 455.2,168.2 455.46,168.75 455.69,169.34 455.91,169.96 456.12,170.62 456.31,171.29 456.5,171.99 456.69,172.69 456.88,173.4 457.07,174.11 457.28,174.81 457.5,175.5 457.71,176.13 457.91,176.79 458.12,177.47 458.32,178.16 458.53,178.85 458.75,179.54 458.96,180.23 459.19,180.89 459.41,181.53 459.65,182.14 459.89,182.71 460.14,183.23 460.4,183.7 460.77,184.31 461.17,184.9 461.57,185.44 461.98,185.87 462.39,186.18 462.8,186.3 463.25,186.17 463.7,185.81 464.16,185.31 464.62,184.78 465.1,184.3 465.56,183.87 466.03,183.37 466.51,182.87 466.99,182.42 467.49,182.08 468,181.9 468.58,181.91 469.17,182.09 469.77,182.39 470.38,182.74 471,183.1 471.48,183.42 471.98,183.83 472.48,184.29 472.98,184.77 473.49,185.21 473.99,185.59 474.5,185.87 475,186 475.6,185.96 476.21,185.77 476.82,185.47 477.42,185.09 478.02,184.69 478.6,184.3 479.11,183.91 479.6,183.45 480.07,182.96 480.55,182.47 481.03,182.01 481.55,181.65 482.1,181.4 482.7,181.31 483.34,181.37 484.01,181.51 484.68,181.69 485.37,181.84 486.04,181.93 486.7,181.9 487.3,181.72 487.9,181.44 488.5,181.07 489.1,180.68 489.69,180.29 490.27,179.96 490.84,179.71 491.4,179.6 492.01,179.61 492.61,179.73 493.2,179.92 493.78,180.17 494.35,180.47 494.9,180.8 495.37,181.17 495.83,181.67 496.28,182.24 496.72,182.82 497.16,183.37 497.58,183.84 497.99,184.16 498.4,184.3 498.88,184.21 499.34,183.94 499.79,183.52 500.24,183.02 500.7,182.5 501.05,182.06 501.4,181.55 501.76,180.97 502.11,180.36 502.46,179.72 502.82,179.07 503.18,178.42 503.54,177.8 503.92,177.22 504.3,176.7 504.71,176.17 505.13,175.63 505.55,175.09 505.98,174.58 506.42,174.12 506.87,173.72 507.33,173.41 507.8,173.2 508.36,173.09 508.94,173.1 509.54,173.2 510.13,173.37 510.73,173.58 511.3,173.8 511.9,174.09 512.48,174.45 513.05,174.86 513.63,175.29 514.21,175.72 514.8,176.1 515.34,176.44 515.89,176.83 516.45,177.23 517.02,177.59 517.57,177.88 518.1,178.06 518.6,178.1 519.19,177.93 519.74,177.59 520.27,177.11 520.79,176.53 521.3,175.9 521.61,175.46 521.91,174.95 522.2,174.39 522.49,173.78 522.76,173.14 523.04,172.48 523.32,171.82 523.6,171.15 523.88,170.51 524.18,169.89 524.48,169.32 524.8,168.8 525.21,168.2 525.62,167.61 526.05,167.03 526.48,166.49 526.92,165.98 527.37,165.53 527.83,165.13 528.3,164.8 528.9,164.47 529.53,164.21 530.16,164.03 530.79,163.96 531.4,164 531.94,164.16 532.47,164.42 533,164.78 533.51,165.2 534.01,165.68 534.5,166.2 534.85,166.62 535.19,167.08 535.52,167.58 535.84,168.11 536.16,168.67 536.47,169.26 536.78,169.86 537.09,170.47 537.39,171.08 537.69,171.69 538,172.3 538.29,172.88 538.57,173.49 538.84,174.13 539.12,174.77 539.39,175.43 539.66,176.09 539.93,176.75 540.2,177.4 540.47,178.03 540.74,178.65 541.02,179.23 541.31,179.79 541.6,180.3 541.96,180.93 542.33,181.58 542.7,182.23 543.08,182.85 543.46,183.38 543.84,183.81 544.22,184.1 544.6,184.2 544.99,184.11 545.38,183.84 545.78,183.42 546.18,182.9 546.58,182.29 546.97,181.64 547.34,180.96 547.7,180.3 547.95,179.79 548.19,179.22 548.42,178.6 548.63,177.94 548.84,177.26 549.04,176.54 549.24,175.81 549.44,175.07 549.63,174.33 549.83,173.59 550.04,172.87 550.25,172.16 550.47,171.49 550.7,170.85 550.94,170.25 551.2,169.7 551.56,169.01 551.93,168.31 552.32,167.63 552.72,166.98 553.12,166.37 553.54,165.84 553.96,165.38 554.38,165.03 554.8,164.8 555.45,164.67 556.12,164.74 556.78,164.97 557.4,165.3 557.82,165.62 558.22,166.03 558.61,166.51 558.98,167.05 559.35,167.62 559.72,168.21 560.1,168.8 560.41,169.33 560.72,169.95 561.02,170.64 561.32,171.36 561.63,172.09 561.93,172.8 562.25,173.46 562.57,174.03 562.9,174.5 563.24,174.83 563.6,175 564.07,174.96 564.55,174.71 565.05,174.31 565.56,173.8 566.08,173.26 566.59,172.74 567.1,172.3 567.6,171.89 568.1,171.43 568.61,170.96 569.11,170.52 569.61,170.14 570.11,169.86 570.6,169.7 571.16,169.67 571.73,169.75 572.28,169.93 572.81,170.22 573.3,170.6 573.64,170.99 573.95,171.48 574.24,172.07 574.51,172.72 574.77,173.41 575.01,174.12 575.24,174.83 575.46,175.51 575.68,176.14 575.9,176.7 576.16,177.3 576.4,177.83 576.63,178.34 576.85,178.86 577.07,179.4 577.3,180 577.49,180.59 577.67,181.29 577.86,182.06 578.04,182.88 578.23,183.68 578.42,184.43 578.61,185.09 578.8,185.62 579,185.97 579.2,186.1 579.44,185.96 579.69,185.56 579.94,184.97 580.2,184.25 580.46,183.47 580.72,182.7 581,182 581.24,181.44 581.48,180.85 581.72,180.25 581.97,179.62 582.23,178.99 582.49,178.37 582.75,177.74 583.03,177.14 583.31,176.55 583.6,176 583.93,175.4 584.26,174.79 584.6,174.18 584.95,173.6 585.31,173.05 585.69,172.54 586.08,172.09 586.5,171.7 587.09,171.25 587.74,170.85 588.4,170.53 589.03,170.37 589.6,170.4 590.02,170.71 590.38,171.28 590.71,171.98 591.03,172.67 591.39,173.22 591.8,173.5 592.26,173.45 592.75,173.17 593.26,172.75 593.8,172.3 594.35,171.92 594.9,171.7 595.46,171.65 596.04,171.7 596.62,171.81 597.22,171.95 597.81,172.09 598.4,172.2 600.6,168.2 602.8,162 605,159 607.2,162.9 609.4,174.4 611.2,170.9 613.4,165.6 615.2,167.3 616.5,178 617.5,190.1 618.8,180 620,172.6 621.3,166.5 624,165.6 625.5,168 626.6,172.6 628.3,200.5 630,186 631.2,172.6 632.9,166.5 634.5,168 636.9,171.7 638.2,163.8 640.4,157.6 640.9,156.4 642.6,162 643.9,169.1 645.7,177.9 647.5,166.5 649.7,162 651.4,170 652.8,174.4 655,167.3 657.6,162.5 659.8,167.3 662,174.4 662.9,178.8 664.2,170.9 665.5,164.7 667.3,170.9 669.1,178.8 670.8,170.9 672.1,164.7 673.9,176.1 675.2,177.9 676.5,166.5 677.9,158.5" fill="none" stroke="#27df2b" stroke-width="1.7" stroke-linejoin="round"/>
<path d="M422.5,168.5 L422.64,169.19 L422.78,169.96 L422.92,170.79 L423.06,171.63 L423.2,172.47 L423.34,173.26 L423.48,173.98 L423.61,174.6 L423.74,175.08 L423.87,175.39 L424,175.5 L424.15,175.34 L424.29,174.9 L424.42,174.26 L424.56,173.48 L424.69,172.63 L424.8,172.03 M425.8,167.74 L425.96,167.08 L426.14,166.39 L426.31,165.7 L426.43,165.22 M426.8,163.7 L426.95,163.02 L427.08,162.3 L427.21,161.57 L427.33,160.84 L427.45,160.12 L427.58,159.43 L427.73,158.79 L427.89,158.21 L428.08,157.71 L428.3,157.3 L428.77,156.73 L429.29,156.33 L429.8,156.2 L430.19,156.35 L430.57,156.69 L430.94,157.16 L431.3,157.7 L431.35,157.79 M432.86,161.91 L432.98,162.3 L433.19,162.94 L433.4,163.5 L433.69,164.2 L433.76,164.35 M435.5,168.6 L435.69,168.48 L435.91,168.16 L436.14,167.67 L436.39,167.04 L436.64,166.3 L436.9,165.49 L437.16,164.64 L437.41,163.78 L437.66,162.95 L437.89,162.18 L438.1,161.5 L438.31,160.79 L438.48,160.04 L438.64,159.27 L438.8,158.5 L438.81,158.42 M441.01,154.99 L441.5,155 L441.97,155.21 L442.45,155.59 L442.92,156.1 L443.1,156.33 M443.8,157.3 L444.09,157.78 L444.35,158.33 L444.6,158.92 L444.84,159.55 L445.07,160.19 L445.29,160.83 L445.52,161.46 L445.76,162.05 L446,162.6 L446.32,163.3 L446.64,164.06 L446.97,164.79 L447.29,165.42 L447.6,165.85 L447.9,166 L448.15,165.83 L448.4,165.4 L448.5,165.13 M449.9,160.96 L449.99,160.72 L450.23,160.12 L450.5,159.5 L450.77,158.9 L450.92,158.57 M453.3,154.65 L453.6,154.3 M453.6,154.3 L454.06,153.77 L454.55,153.19 L455.08,152.65 L455.63,152.23 L456.2,152 L456.8,151.99 L457.45,152.13 L458.1,152.4 L458.7,152.76 L459.2,153.2 L459.51,153.66 L459.73,154.23 L459.9,154.87 L460.03,155.56 L460.16,156.27 L460.3,156.94 M462.03,160.98 L462.14,161.2 L462.4,161.7 L462.68,162.23 L462.93,162.69 L463.19,163.14 L463.28,163.26 M466.43,166.49 L466.72,166.6 L467.3,166.6 M467.3,166.6 L467.76,166.3 L468.17,165.76 L468.58,165.12 L469,164.5 L469.33,164.03 L469.67,163.52 L470.01,162.99 L470.36,162.49 L470.72,162.05 L471.1,161.7 L471.71,161.35 L472.34,161.14 L473,161 L473.54,160.92 L474.09,160.87 L474.65,160.89 L475.2,161 L475.47,161.12 M478.98,163.75 L479.4,164 L479.95,164.21 L480.55,164.36 L481.14,164.42 L481.44,164.41 M485.19,161.93 L485.4,161.7 M485.4,161.7 L485.77,161.26 L486.15,160.74 L486.55,160.18 L486.96,159.58 L487.39,158.98 L487.82,158.37 L488.27,157.8 L488.73,157.27 L489.2,156.8 L489.69,156.38 L490.19,155.99 L490.71,155.62 L491.24,155.28 L491.77,154.97 L492.31,154.68 L492.86,154.43 L493.05,154.35 M497.33,153.41 L497.5,153.4 L498.22,153.38 L498.91,153.41 L499.56,153.53 L499.89,153.67 M502.88,157.06 L503.2,157.6 M503.2,157.6 L503.2,157.6 L503.5,158.14 L503.79,158.72 L504.06,159.31 L504.31,159.92 L504.56,160.54 L504.8,161.17 L505.03,161.79 L505.26,162.4 L505.5,163 L505.76,163.62 L506.01,164.23 L506.26,164.83 L506.51,165.43 L506.75,166.03 L506.97,166.66 L507.19,167.31 L507.28,167.59 M508.24,171.88 L508.34,172.51 L508.46,173.2 L508.57,173.9 L508.65,174.45 M509.26,179.01 L509.28,179.2 L509.37,180.1 L509.46,180.99 L509.54,181.87 L509.63,182.69 L509.71,183.45 L509.8,184.12 L509.89,184.69 L509.99,185.12 L510.09,185.4 L510.2,185.5 L510.41,185.25 L510.64,184.6 L510.87,183.74 L511.1,182.9 L511.26,182.34 L511.43,181.75 L511.49,181.54 M512.46,177.25 L512.51,176.99 L512.61,176.35 L512.7,175.68 L512.8,174.99 L512.83,174.67 M513.37,170.11 L513.4,169.9 L513.49,169.2 L513.59,168.54 L513.7,167.9 L513.83,167.2 L513.96,166.52 L514.1,165.85 L514.23,165.2 L514.38,164.56 L514.52,163.93 L514.67,163.32 L514.81,162.71 L514.96,162.1 L515.1,161.5 L515.25,160.84 L515.38,160.2 L515.5,159.57 L515.51,159.52 M516.4,156.5 L516.68,155.93 L516.99,155.34 L517.34,154.73 L517.71,154.12 L518.1,153.52 L518.51,152.95 L518.93,152.42 L519.36,151.94 L519.78,151.53 L520.2,151.2 L520.8,150.86 L521.43,150.61 L522.07,150.45 L522.67,150.38 L523.2,150.4 L523.74,150.54 L524.18,150.79 M527,154.14 L527.02,154.17 L527.4,154.6 L527.87,155.09 L528.33,155.55 L528.8,155.93 L528.85,155.96 M533.1,155.8 L533.56,155.48 L534.06,155.04 L534.58,154.54 L535.1,154.08 L535.62,153.74 L536.1,153.6 L536.7,153.73 L537.29,154.08 L537.83,154.56 L538.3,155.1 L538.59,155.56 L538.82,156.08 L539,156.66 L539.17,157.26 L539.33,157.88 L539.5,158.5 L539.67,159.09 L539.69,159.14 M540.66,163.43 L540.68,163.56 L540.75,164.21 L540.82,164.94 L540.88,165.73 L540.9,166.02 M541.17,170.61 L541.19,170.99 L541.24,171.8 L541.28,172.56 L541.33,173.24 L541.38,173.83 L541.43,174.32 L541.48,174.68 L541.54,174.92 L541.6,175 L541.69,174.85 L541.76,174.42 L541.84,173.79 L541.92,173.02 L542.01,172.16 L542.11,171.28 L542.24,170.44 L542.4,169.7 L542.59,169.07 L542.71,168.75 M544.39,164.69 L544.4,164.65 L544.6,164 M544.6,164 L544.75,163.34 L544.88,162.67 L544.98,162 L545.07,161.32 L545.15,160.64 L545.22,159.96 L545.3,159.29 L545.39,158.64 L545.5,158 L545.62,157.38 L545.76,156.77 L545.89,156.18 L546.03,155.59 L546.18,155.01 L546.32,154.42 L546.46,153.82 L546.56,153.39 M547.34,149.06 L547.47,148.51 L547.62,147.97 L547.8,147.5 L548.11,146.89 L548.27,146.66 M551.9,144.9 L552.34,145.15 L552.74,145.58 L553.11,146.14 L553.46,146.75 L553.82,147.36 L554.2,147.9 L554.58,148.36 L554.96,148.82 L555.35,149.27 L555.73,149.71 L556.12,150.16 L556.5,150.6 L556.96,151.1 L557.43,151.58 L557.89,152.07 L558.32,152.6 L558.7,153.2 L558.7,153.2 M559.98,157.4 L560.1,158 L560.21,158.61 L560.3,159.24 L560.38,159.91 L560.39,159.96 M560.81,164.54 L560.82,164.68 L560.9,165.3 L561,166.08 L561.11,166.94 L561.23,167.82 L561.34,168.67 L561.46,169.43 L561.58,170.04 L561.69,170.45 L561.8,170.6 L561.89,170.47 L561.98,170.1 L562.07,169.54 L562.16,168.83 L562.25,168.02 L562.34,167.15 L562.42,166.27 L562.45,166.03 M563.15,161.69 L563.23,161.29 L563.37,160.65 L563.5,160 M563.5,160 L563.63,159.36 L563.75,158.75 L563.87,158.13 L564,157.5 L564.14,156.83 L564.3,156.1 L564.42,155.5 L564.53,154.82 L564.65,154.07 L564.77,153.28 L564.89,152.46 L565.02,151.66 L565.17,150.88 L565.33,150.15 L565.51,149.49 L565.54,149.4 M569.05,148.66 L569.4,148.86 L570,149 L570.53,148.77 L571.03,148.32 L571.25,148.07 M573.65,146.76 L573.82,147.42 L574,148.22 L574.17,149.04 L574.34,149.82 L574.5,150.5 M574.5,150.5 L574.67,151.15 L574.82,151.79 L574.96,152.42 L575.1,153.05 L575.24,153.69 L575.37,154.34 L575.5,155 L575.62,155.63 L575.74,156.25 L575.86,156.87 L575.98,157.51 L576.09,158.16 L576.19,158.83 L576.3,159.55 L576.4,160.3 L576.47,160.9 L576.49,161.11 M576.83,165.49 L576.85,165.83 L576.91,166.7 L576.96,167.53 L577,168.09 M577.44,169.15 L577.45,168.7 L577.47,167.9 L577.49,167.03 L577.51,166.12 L577.54,165.21 L577.57,164.32 L577.6,163.46 L577.65,162.68 L577.7,162 L577.76,161.32 L577.83,160.66 L577.9,160.01 L577.97,159.38 L578.05,158.75 L578.1,158.37 M578.92,154.05 L579.04,153.49 L579.2,152.71 L579.38,151.92 L579.47,151.51 M580.9,148.2 L580.9,148.2 L581.35,148.19 L581.85,148.42 L582.34,148.82 L582.8,149.3 L583.08,149.7 L583.33,150.19 L583.56,150.77 L583.77,151.4 L583.98,152.07 L584.19,152.77 L584.39,153.47 L584.61,154.15 L584.85,154.8 L585.1,155.4 L585.39,155.97 L585.71,156.52 L586.04,157.05 L586.07,157.1 M588.13,160.96 L588.28,161.45 L588.43,162.04 L588.57,162.64 L588.69,163.25 L588.73,163.49 M589.38,168.04 L589.44,168.76 L589.51,169.65 L589.58,170.56 L589.64,171.47 L589.7,172.37 L589.76,173.22 L589.81,174 L589.87,174.69 L589.92,175.27 L589.98,175.72 L590.04,176 L590.1,176.1 L590.16,176.02 L590.21,175.79 L590.27,175.42 L590.33,174.93 L590.39,174.35 L590.44,173.67 L590.46,173.44 M590.75,169.05 L590.78,168.67 L590.83,167.83 L590.89,167.02 L590.93,166.46 M591.3,161.87 L591.32,161.6 L591.37,160.95 L591.42,160.29 L591.48,159.64 L591.53,158.99 L591.59,158.34 L591.66,157.7 L591.73,157.05 L591.8,156.4 L591.88,155.71 L591.96,155 L592.05,154.28 L592.13,153.56 L592.22,152.83 L592.31,152.11 L592.41,151.4 L592.45,151.14 M593.3,146.82 L593.31,146.76 L593.54,145.88 L593.78,145.05 L594.02,144.36 L594.04,144.33 M594.5,143.7 L594.72,143.89 L594.94,144.39 L595.15,145.11 L595.36,145.94 L595.58,146.81 L595.8,147.6 L595.98,148.16 L596.17,148.76 L596.37,149.38 L596.58,150.01 L596.78,150.66 L596.97,151.3 L597.16,151.95 L597.33,152.59 L597.48,153.2 L597.6,153.8 L597.63,153.98 M597.99,158.36 L598,158.5 L598.06,159.09 L598.14,159.7 L598.21,160.33 L598.29,160.94 M598.89,165.5 L598.9,165.6 L600.04,176.24 M600.52,180.62 L600.6,181.4 L600.75,179.6 M601.14,175.01 L602,164.7 L602.01,164.25 M602.13,159.85 L602.2,157.25 M602.33,152.65 L602.4,150 L604.09,142.03 M605.79,145.01 L606.58,147.48 M608.58,151.59 L609.4,152.9 L609.9,158.5 L611.29,161.85 M612.31,161.52 L612.54,158.93 M612.95,154.35 L613,153.8 L615.2,145.9 L616.65,147.35 M619.28,150.85 L620,152 L620.17,153.23 M620.8,157.78 L620.9,158.5 L622.2,167.3 L622.33,166.13 M622.81,161.75 L623,160 L623.11,159.17 M623.71,154.61 L624.4,149.4 L625,151.1 L626.87,154.34 M628.44,158.42 L629,160.3 L629.12,160.93 M629.99,165.45 L630.7,169.1 L632.09,162.16 M633.15,158.16 L635.68,158.79 M638.37,161.75 L640,159.4 L641.7,157.6 L643.01,162.9 M644.08,165.83 L644.77,163.32 M645.99,158.89 L646.1,158.5 L647.27,168.83 M647.73,168.59 L647.98,166 M648.43,161.42 L649.49,150.68 M649.93,150.7 L650.21,153.29 M650.67,157.86 L651.4,165.6 L651.87,168.59 M652.56,172.94 L652.96,175.51 M653.51,173.93 L654.1,168.2 L654.71,163.2 M655.25,158.83 L655.4,157.6 L655.48,156.24 M655.77,151.65 L655.8,151.1 L657,158 L657.69,154.83 M658.56,151.68 L658.81,154.27 M659.26,158.85 L659.4,160.3 L660.2,169.1 L660.23,169.6 M660.53,173.99 L660.7,176.59 M661.02,180.82 L662.05,170.07 M662.47,165.69 L662.72,163.1 M663.51,158.58 L664.2,155.6 L665.44,147.96 M665.82,151.62 L666.03,154.21 M666.4,158.8 L666.5,160 L667.41,169.55 M667.85,173.93 L668.15,176.51 M668.67,179.92 L669.89,169.19 M670.39,164.82 L670.4,164.7 L670.52,162.22 M670.75,157.63 L671.29,146.84 M673.14,150.22 L673.5,152 L673.6,152.78 M674.21,157.34 L675.2,164.7 L675.58,168.05 M676.08,172.42 L676.1,172.6 L676.24,175.02 M676.5,179.61 L676.5,179.7 L677.01,169 M677.22,164.61 L677.34,162.01 M677.56,157.41 L677.9,150.3" fill="none" stroke="#d41f1f" stroke-width="1.7" stroke-linejoin="round"/>
<path d="M422.6,75 L422.6,61.6 M423.1,52.6 L424,49 L424.8,48.6 L425.7,51.7 L426.6,54.3 L426.88,57.1 M427.5,63.3 L428.4,72.3 L429.7,73.2 L431.28,70.92 M432.27,61.72 L432.3,61.4 M432.3,61.4 L432.8,57.4 L434.5,57 L437.2,57.9 L438.5,59.6 L439.24,62.13 M440.3,71.5 L441.6,79.4 L442.2,84 L442.22,84.75 M442.47,93.22 L442.5,94.1 L443.3,102 L444,101 L444.25,97.65 M445.66,89.08 L446.4,92.3 L448.2,100.3 L448.37,99.73 M448.37,99.73 L449.5,95.9 L450.4,92.3 L451.7,95.9 L451.9,97.76 M452.6,104.39 L452.6,104.4 L453.9,115.9 L454.26,117.68 M455.97,113.8 L456.6,107 L457.36,100.47 M457.83,96.5 L457.9,95.9 L459.2,97.6 L460.5,102 L461.9,103.8 L463.17,107.36 M464.25,110.91 L464.9,114.1 L466.3,111.5 L467.1,107 L467.35,104.39 M467.92,98.45 L468,97.6 L468.9,94.1 L469.8,95.9 L470.65,102.76 M472.05,100.96 L472.9,93.2 L473.16,87.61 M474.08,82.19 L474.2,82.6 L474.6,93.2 L474.84,95.56 M475.63,104.82 L476,113 L476.8,108.8 L476.86,107.87 M478.32,104.24 L478.6,105 L481.3,108.9 L484.4,112 L485.7,110.3 L485.87,108.99 M487.19,99.67 L488.3,94.4 L489.2,92.3 L489.88,97.99 M490.55,102.98 L491.9,97 L492.7,90.7 L493.5,91.15 M498.08,98.01 L499.3,105.9 L501.23,100.83 M501.9,99.06 L502,98.8 L504.2,92.6 L506.2,90.7 L507.9,93.5 L508.23,93.89 M512.42,100.53 L514.8,106.7 L516,100.02 M516.85,95.26 L517,94.4 L518.3,86.1 L520.5,84.8 L520.69,86.36 M521.83,95.75 L522.7,107.6 L523.21,109.03 M525.35,109.59 L526.2,101.5 L527.49,96.39 M531.39,88.17 L533.4,86.1 L535.3,90.5 L537.51,94.32 M537.51,94.32 L537.9,95 L541.5,95.6 L544.1,99 L545.4,100.8 L547.5,102 L547.53,102.03 M550.02,105.04 L551.1,108.7 L552.5,105.2 L553.3,101.7 L555.05,100.33 M555.81,99.13 L557.3,93.8 L558.2,90.5 L560,92.3 L560.62,94.1 M562.2,98.7 L563.5,94.5 L565.2,92.3 L567.9,94.9 L568.77,97.22 M569.95,88.16 L570.1,87 L572.3,86.5 L573.2,87.4 L574.7,95.97 M577.44,100.4 L577.91,104.39 M577.91,104.39 L578,105.2 L578.9,117.5 L578.99,117.27 M581.65,108.37 L582.9,103.5 L585,101 L587.3,100.8 L588.32,98.19 M588.85,95.4 L589.7,90.5 L591.28,98.78 M591.35,99.09 L591.5,99.9 L593.7,105.7 L595,100.8 L595.08,99.5 M595.61,90.21 L595.9,85.2 L596.8,88.7 L598.63,93.1 M601.2,98.7 L602.9,92 L605.1,87.4 L605.74,88.63 M609.71,96.93 L609.78,97.8 M609.78,97.8 L610.4,105.2 L611.22,111.12 M612.39,110.26 L613.5,100.8 L614.18,104.62 M615.71,108.01 L617.5,95.5 L617.71,94.77 M620.99,93.09 L621,93.1 L621.9,102.6 L623,104 L624.42,105.5 M630.36,100.3 L631.1,97.3 L632,93.1 L632.47,87.11 M633.45,85.54 L633.8,88 L634.4,98.9 M634.85,108.19 L635.1,114.7 L635.67,107.84 M636.44,98.58 L637.3,90.5 L637.7,93.8 L638.04,95.73 M639.72,98.53 L640.4,95 L640.9,93.1 L641.7,95.5 L642.55,100.74 M644.56,99.04 L645.3,93.1 L646.5,97 L647.13,100.28 M648.79,99.17 L649,98 L650.55,92.49 M650.55,92.49 L650.6,92.3 L653.2,89.6 L655.8,87.9 L658,90.9 L659.26,88.59 M664.13,89.63 L664.5,90 L666.4,93.1 M666.4,93.1 L669.1,86.5 L669.94,92.71 M670.65,97.86 L670.8,99 L671.29,111.24 M673.06,102.51 L673.5,97.3 L673.5,89.13 M677.13,95.85 L677.4,96.7 L677.9,100.8" fill="none" stroke="#0b0bab" stroke-width="1.7" stroke-linejoin="round"/>
<g stroke="#262626" stroke-width="1.3" fill="#262626" font-size="18.9"><line x1="67.4" y1="231.4" x2="67.4" y2="228.4"/>
<line x1="67.4" y1="9" x2="67.4" y2="12"/>
<line x1="124.97" y1="231.4" x2="124.97" y2="228.4"/>
<line x1="124.97" y1="9" x2="124.97" y2="12"/>
<line x1="182.54" y1="231.4" x2="182.54" y2="228.4"/>
<line x1="182.54" y1="9" x2="182.54" y2="12"/>
<line x1="240.11" y1="231.4" x2="240.11" y2="228.4"/>
<line x1="240.11" y1="9" x2="240.11" y2="12"/>
<line x1="297.68" y1="231.4" x2="297.68" y2="228.4"/>
<line x1="297.68" y1="9" x2="297.68" y2="12"/>
<line x1="67.5" y1="9" x2="70.5" y2="9"/>
<line x1="326.5" y1="9" x2="323.5" y2="9"/>
<line x1="67.5" y1="53.35" x2="70.5" y2="53.35"/>
<line x1="326.5" y1="53.35" x2="323.5" y2="53.35"/>
<line x1="67.5" y1="97.8" x2="70.5" y2="97.8"/>
<line x1="326.5" y1="97.8" x2="323.5" y2="97.8"/>
<line x1="67.5" y1="142.25" x2="70.5" y2="142.25"/>
<line x1="326.5" y1="142.25" x2="323.5" y2="142.25"/>
<line x1="67.5" y1="186.7" x2="70.5" y2="186.7"/>
<line x1="326.5" y1="186.7" x2="323.5" y2="186.7"/>
<line x1="67.5" y1="231.4" x2="70.5" y2="231.4"/>
<line x1="326.5" y1="231.4" x2="323.5" y2="231.4"/>
<line x1="67.5" y1="8.4" x2="67.5" y2="232" stroke-width="1.3"/>
<line x1="326.5" y1="8.4" x2="326.5" y2="232" stroke-width="1.3"/>
<line x1="66.9" y1="9" x2="327.1" y2="9" stroke-width="1.6"/>
<line x1="66.9" y1="231.4" x2="327.1" y2="231.4" stroke-width="1.3"/>
<text x="59.9" y="17" text-anchor="end" stroke="none">0</text>
<text x="59.9" y="61.35" text-anchor="end" stroke="none">-10</text>
<text x="59.9" y="105.8" text-anchor="end" stroke="none">-20</text>
<text x="59.9" y="150.25" text-anchor="end" stroke="none">-30</text>
<text x="59.9" y="194.7" text-anchor="end" stroke="none">-40</text>
<text x="59.9" y="239.4" text-anchor="end" stroke="none">-50</text>
<text x="66.9" y="258.7" text-anchor="middle" stroke="none">0</text>
<text x="124.47" y="258.7" text-anchor="middle" stroke="none">1</text>
<text x="182.04" y="258.7" text-anchor="middle" stroke="none">2</text>
<text x="239.61" y="258.7" text-anchor="middle" stroke="none">3</text>
<text x="297.18" y="258.7" text-anchor="middle" stroke="none">4</text><line x1="422.5" y1="233.4" x2="422.5" y2="230.4"/>
<line x1="422.5" y1="9.2" x2="422.5" y2="12.2"/>
<line x1="480.5" y1="233.4" x2="480.5" y2="230.4"/>
<line x1="480.5" y1="9.2" x2="480.5" y2="12.2"/>
<line x1="538.5" y1="233.4" x2="538.5" y2="230.4"/>
<line x1="538.5" y1="9.2" x2="538.5" y2="12.2"/>
<line x1="596.5" y1="233.4" x2="596.5" y2="230.4"/>
<line x1="596.5" y1="9.2" x2="596.5" y2="12.2"/>
<line x1="654.5" y1="233.4" x2="654.5" y2="230.4"/>
<line x1="654.5" y1="9.2" x2="654.5" y2="12.2"/>
<line x1="422.3" y1="9.2" x2="425.3" y2="9.2"/>
<line x1="683.5" y1="9.2" x2="680.5" y2="9.2"/>
<line x1="422.3" y1="53.9" x2="425.3" y2="53.9"/>
<line x1="683.5" y1="53.9" x2="680.5" y2="53.9"/>
<line x1="422.3" y1="98.75" x2="425.3" y2="98.75"/>
<line x1="683.5" y1="98.75" x2="680.5" y2="98.75"/>
<line x1="422.3" y1="143.6" x2="425.3" y2="143.6"/>
<line x1="683.5" y1="143.6" x2="680.5" y2="143.6"/>
<line x1="422.3" y1="188.5" x2="425.3" y2="188.5"/>
<line x1="683.5" y1="188.5" x2="680.5" y2="188.5"/>
<line x1="422.3" y1="233.4" x2="425.3" y2="233.4"/>
<line x1="683.5" y1="233.4" x2="680.5" y2="233.4"/>
<line x1="422.3" y1="8.6" x2="422.3" y2="234" stroke-width="1.6"/>
<line x1="683.5" y1="8.6" x2="683.5" y2="234" stroke-width="1.3"/>
<line x1="421.7" y1="9.2" x2="684.1" y2="9.2" stroke-width="1.6"/>
<line x1="421.7" y1="233.4" x2="684.1" y2="233.4" stroke-width="1.3"/>
<text x="414.7" y="17.2" text-anchor="end" stroke="none">60</text>
<text x="414.7" y="61.9" text-anchor="end" stroke="none">40</text>
<text x="414.7" y="106.75" text-anchor="end" stroke="none">20</text>
<text x="414.7" y="151.6" text-anchor="end" stroke="none">0</text>
<text x="414.7" y="196.5" text-anchor="end" stroke="none">-20</text>
<text x="414.7" y="241.4" text-anchor="end" stroke="none">-40</text>
<text x="422" y="260.7" text-anchor="middle" stroke="none">0</text>
<text x="480" y="260.7" text-anchor="middle" stroke="none">1</text>
<text x="538" y="260.7" text-anchor="middle" stroke="none">2</text>
<text x="596" y="260.7" text-anchor="middle" stroke="none">3</text>
<text x="654" y="260.7" text-anchor="middle" stroke="none">4</text></g>
<line x1="205.6" y1="166.6" x2="262.6" y2="166.6" stroke="#27df2b" stroke-width="1.6"/>
<text x="267.3" y="174" fill="#262626" font-size="18.9" textLength="46.5" lengthAdjust="spacing">α=10°</text>
<line x1="205.6" y1="189.9" x2="262.6" y2="189.9" stroke="#d41f1f" stroke-width="1.6" stroke-dasharray="11.3 4.2 2.6 4.4"/>
<text x="267.3" y="197.3" fill="#262626" font-size="18.9" textLength="46.5" lengthAdjust="spacing">α=20°</text>
<line x1="205.6" y1="213.3" x2="262.6" y2="213.3" stroke="#0b0bab" stroke-width="1.6" stroke-dasharray="13.6 9.2"/>
<text x="267.3" y="220.7" fill="#262626" font-size="18.9" textLength="46.5" lengthAdjust="spacing">α=30°</text>
<line x1="538.6" y1="20.2" x2="595.6" y2="20.2" stroke="#27df2b" stroke-width="1.6"/>
<text x="601.5" y="27.6" fill="#262626" font-size="18.9" textLength="46.5" lengthAdjust="spacing">α=70°</text>
<line x1="538.6" y1="43.5" x2="595.6" y2="43.5" stroke="#d41f1f" stroke-width="1.6" stroke-dasharray="11.3 4.2 2.6 4.4"/>
<text x="601.5" y="50.9" fill="#262626" font-size="18.9" textLength="46.5" lengthAdjust="spacing">α=80°</text>
<line x1="538.6" y1="66.5" x2="595.6" y2="66.5" stroke="#0b0bab" stroke-width="1.6" stroke-dasharray="13.6 9.2"/>
<text x="601.5" y="73.9" fill="#262626" font-size="18.9" textLength="46.5" lengthAdjust="spacing">α=90°</text>
<text transform="translate(22.6,118.6) rotate(-90)" text-anchor="middle" font-size="21.4" fill="#262626">RCS(dBm<tspan font-size="15.5" dy="-10">2</tspan><tspan dy="10" dx="0.6">)</tspan></text>
<text transform="translate(377.4,119.9) rotate(-90)" text-anchor="middle" font-size="21.4" fill="#262626">RCS(dBm<tspan font-size="15.5" dy="-10">2</tspan><tspan dy="10" dx="0.6">)</tspan></text>
<text x="197" y="287.5" text-anchor="middle" font-size="21.4" fill="#262626">t(s)</text>
<text x="552.9" y="290" text-anchor="middle" font-size="21.4" fill="#262626">t(s)</text>
<text x="74" y="313.7" font-family="Liberation Serif" font-size="14.7" fill="#111">(a)</text>
<text x="111.5" y="313.7" font-family="Liberation Serif" font-size="14.7" fill="#111">RCS curve at <tspan font-style="italic">α</tspan>=10°, 20°, 30°</text>
<text x="423" y="313.7" font-family="Liberation Serif" font-size="14.7" fill="#111">(b)</text>
<text x="459.5" y="313.7" font-family="Liberation Serif" font-size="14.7" fill="#111">RCS curve at <tspan font-style="italic">α</tspan>=70°, 80°, 90°</text>
</svg></body></html>
